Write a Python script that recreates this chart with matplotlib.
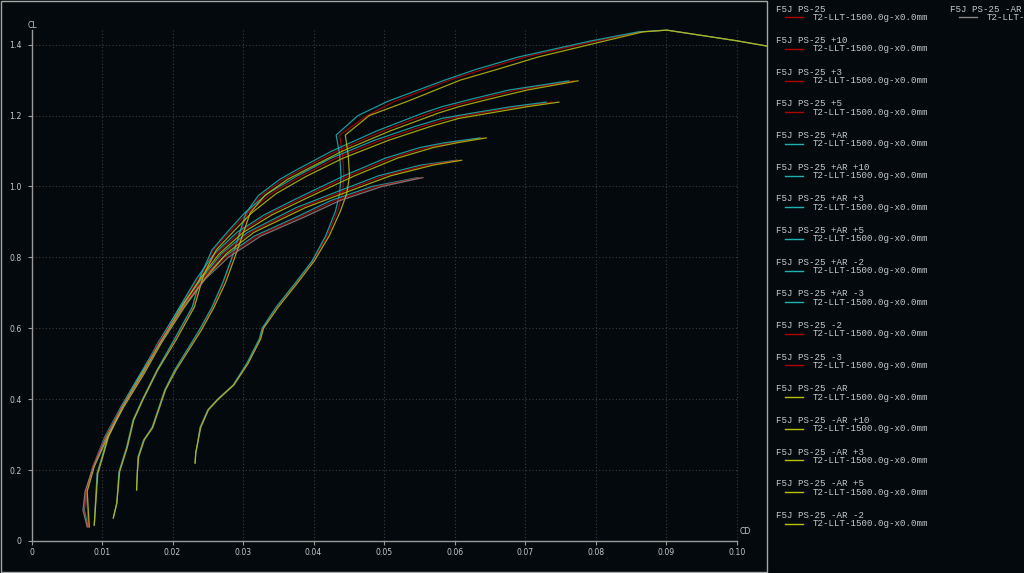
import matplotlib
matplotlib.use('Agg')
import matplotlib.pyplot as plt
from matplotlib.lines import Line2D
from matplotlib.patches import Rectangle

# ---- polar data (CD, CL) ----
# flap +10
cl_p10 = [0.22, 0.25, 0.27, 0.32, 0.37, 0.40, 0.44, 0.50, 0.57, 0.60, 0.66, 0.73, 0.79, 0.86, 0.93,
          0.98, 1.03, 1.09, 1.145, 1.20, 1.24, 1.30, 1.33, 1.365, 1.41, 1.436, 1.441, 1.411, 1.396]
cd_p10_base = [0.0232, 0.0233, 0.0235, 0.0239, 0.0250, 0.0264, 0.0286, 0.0306, 0.0324, 0.0328, 0.0348, 0.0376,
               0.0399, 0.0419, 0.0434, 0.0441, 0.0443, 0.0441, 0.0437, 0.0476, 0.0515, 0.0593, 0.0640, 0.0700,
               0.0800, 0.0863, 0.0901, 0.1000, 0.1043]
cd_p10_arp = [0.0232, 0.0233, 0.0235, 0.0239, 0.0250, 0.0264, 0.0286, 0.0305, 0.0323, 0.0327, 0.0347, 0.0375,
              0.0398, 0.0417, 0.0431, 0.0437, 0.0439, 0.0437, 0.0432, 0.0463, 0.0505, 0.0586, 0.0630, 0.0690,
              0.0792, 0.0860, 0.0901, 0.1000, 0.1043]
cd_p10_arm = [0.0232, 0.0233, 0.0235, 0.0240, 0.0251, 0.0265, 0.0287, 0.0307, 0.0325, 0.0329, 0.0350, 0.0378,
              0.0401, 0.0422, 0.0438, 0.0447, 0.0451, 0.0449, 0.0445, 0.0479, 0.0533, 0.0608, 0.0660, 0.0718,
              0.0812, 0.0867, 0.0901, 0.1000, 0.1043]

# flap +5
cl_p5 = [0.144, 0.19, 0.237, 0.285, 0.32, 0.426, 0.482, 0.595, 0.66, 0.728, 0.793, 0.849, 0.925, 0.975,
         1.02, 1.046, 1.10, 1.157, 1.207, 1.225, 1.247, 1.272, 1.298]
cd_p5_base = [0.0149, 0.0150, 0.0151, 0.0159, 0.0171, 0.0189, 0.0203, 0.0239, 0.0257, 0.0272, 0.0284, 0.0293,
              0.0306, 0.0326, 0.0357, 0.0381, 0.0433, 0.0499, 0.0565, 0.0593, 0.0636, 0.0688, 0.0769]
cd_p5_arp = [0.0149, 0.0150, 0.0151, 0.0159, 0.0171, 0.0189, 0.0203, 0.0238, 0.0256, 0.0271, 0.0283, 0.0292,
             0.0304, 0.0322, 0.0352, 0.0375, 0.0426, 0.0490, 0.0555, 0.0582, 0.0625, 0.0677, 0.0762]
cd_p5_arm = [0.0149, 0.0150, 0.0152, 0.0160, 0.0172, 0.0190, 0.0205, 0.0241, 0.0259, 0.0275, 0.0287, 0.0297,
             0.0310, 0.0331, 0.0363, 0.0388, 0.0441, 0.0509, 0.0577, 0.0606, 0.0650, 0.0703, 0.0775]

# flap +3
cl_p3 = [0.065, 0.107, 0.195, 0.265, 0.341, 0.398, 0.482, 0.567, 0.66, 0.75, 0.821, 0.87, 0.925, 0.98,
         1.028, 1.08, 1.13, 1.17, 1.192, 1.207, 1.225, 1.238]
cd_p3_base = [0.0116, 0.0121, 0.0124, 0.0135, 0.0144, 0.0157, 0.0178, 0.0203, 0.0229, 0.0241, 0.0258, 0.0280,
              0.0306, 0.0340, 0.0381, 0.0432, 0.0495, 0.0555, 0.0593, 0.0636, 0.0690, 0.0738]
cd_p3_arp = [0.0116, 0.0121, 0.0124, 0.0135, 0.0144, 0.0157, 0.0178, 0.0202, 0.0228, 0.0240, 0.0256, 0.0277,
             0.0302, 0.0335, 0.0375, 0.0425, 0.0486, 0.0545, 0.0582, 0.0625, 0.0680, 0.0730]
cd_p3_arm = [0.0116, 0.0121, 0.0125, 0.0136, 0.0145, 0.0158, 0.0179, 0.0205, 0.0231, 0.0244, 0.0262, 0.0285,
             0.0312, 0.0347, 0.0389, 0.0442, 0.0506, 0.0567, 0.0606, 0.0650, 0.0703, 0.0748]

# flap 0
cl_0 = [0.045, 0.19, 0.237, 0.293, 0.378, 0.454, 0.547, 0.66, 0.74, 0.81, 0.87, 0.92, 0.965, 1.03,
        1.08, 1.11, 1.123, 1.137]
cd_0_base = [0.0089, 0.0093, 0.0100, 0.0108, 0.0128, 0.0150, 0.0178, 0.0211, 0.0236, 0.0262, 0.0295, 0.0335,
             0.0381, 0.0450, 0.0510, 0.0560, 0.0593, 0.0640]
cd_0_arp = [0.0089, 0.0093, 0.0100, 0.0108, 0.0127, 0.0149, 0.0177, 0.0210, 0.0234, 0.0259, 0.0291, 0.0330,
            0.0375, 0.0443, 0.0502, 0.0551, 0.0585, 0.0636]
cd_0_arm = [0.0089, 0.0094, 0.0101, 0.0109, 0.0129, 0.0151, 0.0179, 0.0213, 0.0239, 0.0266, 0.0300, 0.0341,
            0.0388, 0.0458, 0.0519, 0.0570, 0.0603, 0.0645]

# flap -2
cl_m2 = [0.04, 0.14, 0.21, 0.294, 0.379, 0.473, 0.558, 0.66, 0.74, 0.81, 0.87, 0.94, 0.985, 1.03, 1.06, 1.074]
cd_m2_base = [0.0081, 0.0078, 0.0088, 0.0107, 0.0130, 0.0159, 0.0182, 0.0215, 0.0243, 0.0272, 0.0310, 0.0381,
              0.0440, 0.0500, 0.0560, 0.0606]
cd_m2_arp = [0.0081, 0.0078, 0.0088, 0.0106, 0.0129, 0.0158, 0.0181, 0.0213, 0.0241, 0.0269, 0.0306, 0.0375,
             0.0433, 0.0492, 0.0551, 0.0603]
cd_m2_arm = [0.0082, 0.0079, 0.0089, 0.0108, 0.0131, 0.0160, 0.0184, 0.0217, 0.0246, 0.0276, 0.0315, 0.0388,
             0.0448, 0.0509, 0.0569, 0.0610]

# flap -3
cl_m3 = [0.04, 0.087, 0.14, 0.21, 0.294, 0.379, 0.473, 0.558, 0.66, 0.74, 0.80, 0.86, 0.914, 0.96, 1.00, 1.025]
cd_m3_base = [0.0079, 0.0074, 0.0077, 0.0087, 0.0105, 0.0128, 0.0157, 0.0180, 0.0213, 0.0244, 0.0275, 0.0320,
              0.0381, 0.0430, 0.0490, 0.0551]
cd_m3_arp = [0.0080, 0.0075, 0.0077, 0.0087, 0.0104, 0.0127, 0.0156, 0.0179, 0.0211, 0.0242, 0.0272, 0.0316,
             0.0376, 0.0424, 0.0483, 0.0548]
cd_m3_arm = [0.0079, 0.0073, 0.0076, 0.0088, 0.0106, 0.0129, 0.0158, 0.0182, 0.0215, 0.0247, 0.0279, 0.0325,
             0.0387, 0.0437, 0.0497, 0.0555]

x_ticks = [0, 0.01, 0.02, 0.03, 0.04, 0.05, 0.06, 0.07, 0.08, 0.09, 0.10]
x_labels = ['0', '0.01', '0.02', '0.03', '0.04', '0.05', '0.06', '0.07', '0.08', '0.09', '0.10']
y_ticks = [0, 0.2, 0.4, 0.6, 0.8, 1.0, 1.2, 1.4]
y_labels = ['0', '0.2', '0.4', '0.6', '0.8', '1.0', '1.2', '1.4']

plane_name = 'T2-LLT-1500.0g-x0.0mm'

BG = '#03090d'
RED = '#b00404'
CYAN = '#1cb2b4'
YEL = '#bdbd0c'
GREY = '#8e8484'
AXC = '#9a9a9a'
TXT = '#c8c8c8'

# legend order = drawing order
series = [
    ('F5J PS-25', cd_0_base, cl_0, RED),
    ('F5J PS-25 +10', cd_p10_base, cl_p10, RED),
    ('F5J PS-25 +3', cd_p3_base, cl_p3, RED),
    ('F5J PS-25 +5', cd_p5_base, cl_p5, RED),
    ('F5J PS-25 +AR', cd_0_arp, cl_0, CYAN),
    ('F5J PS-25 +AR +10', cd_p10_arp, cl_p10, CYAN),
    ('F5J PS-25 +AR +3', cd_p3_arp, cl_p3, CYAN),
    ('F5J PS-25 +AR +5', cd_p5_arp, cl_p5, CYAN),
    ('F5J PS-25 +AR -2', cd_m2_arp, cl_m2, CYAN),
    ('F5J PS-25 +AR -3', cd_m3_arp, cl_m3, CYAN),
    ('F5J PS-25 -2', cd_m2_base, cl_m2, RED),
    ('F5J PS-25 -3', cd_m3_base, cl_m3, RED),
    ('F5J PS-25 -AR', cd_0_arm, cl_0, YEL),
    ('F5J PS-25 -AR +10', cd_p10_arm, cl_p10, YEL),
    ('F5J PS-25 -AR +3', cd_p3_arm, cl_p3, YEL),
    ('F5J PS-25 -AR +5', cd_p5_arm, cl_p5, YEL),
    ('F5J PS-25 -AR -2', cd_m2_arm, cl_m2, YEL),
    ('F5J PS-25 -AR -3', cd_m3_arm, cl_m3, GREY),
]

W, H = 1024, 573
fig = plt.figure(figsize=(W / 100, H / 100), dpi=100, facecolor=BG)

# plot area in pixels: x 31.5..767, y 28..541
ax = fig.add_axes([31.5 / W, (H - 541) / H, 735.5 / W, 513 / H])
ax.set_facecolor(BG)
ax.set_xlim(0, 0.1043)
ax.set_ylim(0, 1.447)

for s in ['top', 'right']:
    ax.spines[s].set_visible(False)
for s in ['left', 'bottom']:
    ax.spines[s].set_color(AXC)
    ax.spines[s].set_linewidth(1.0)
ax.spines['left'].set_bounds(0, 1.442)
ax.spines['bottom'].set_bounds(0, 0.1)

ax.set_xticks(x_ticks)
ax.set_xticklabels(x_labels)
ax.set_yticks(y_ticks)
ax.set_yticklabels(y_labels)
ax.tick_params(colors=AXC, labelcolor=TXT, labelsize=5.6, length=3, width=0.8)
ax.tick_params(axis='x', pad=2)
ax.tick_params(axis='y', pad=4)

# dotted grid
for x in x_ticks[1:]:
    ax.plot([x, x], [0, 1.442], color='#3a3e40', lw=0.8, ls=(0, (1, 2)), zorder=1)
for y in y_ticks[1:]:
    ax.plot([0, 0.1], [y, y], color='#3a3e40', lw=0.8, ls=(0, (1, 2)), zorder=1)

for name, cd, cl, c in series:
    ax.plot(cd, cl, color=c, lw=0.9, alpha=0.85, zorder=3)

fig.text(32.5 / W, 1 - 25 / H, 'CL', color=TXT, fontsize=5.6, ha='center', va='center')
fig.text(745 / W, 1 - 532 / H, 'CD', color=TXT, fontsize=5.6, ha='center', va='center')

# frame round the graph widget
fig.add_artist(Rectangle((0.5 / W, 1.0 / H), 766.5 / W, 571.5 / H, transform=fig.transFigure,
                         fill=False, edgecolor='#a6a6a6', lw=1.0))

# legend
step = 31.65
for i, (name, cd, cl, c) in enumerate(series):
    if i < 17:
        x0, y0 = 776, 9 + step * i
    else:
        x0, y0 = 950, 9
    fig.text(x0 / W, 1 - y0 / H, name, color=TXT, fontsize=6.6, family='Liberation Mono',
             ha='left', va='center')
    fig.add_artist(Line2D([(x0 + 9) / W, (x0 + 27) / W], [1 - (y0 + 8.3) / H] * 2,
                          transform=fig.transFigure, color=c, lw=1.0))
    fig.text((x0 + 36.7) / W, 1 - (y0 + 8.3) / H, plane_name, color=TXT, fontsize=6.6,
             family='Liberation Mono', ha='left', va='center')

fig.savefig('out.png', dpi=100, facecolor=BG)
